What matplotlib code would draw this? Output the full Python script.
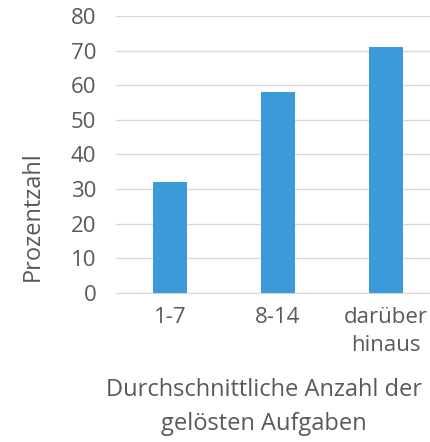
import matplotlib.pyplot as plt

categories = ['1-7', '8-14', 'darüber\nhinaus']
values = [32, 58, 71]

plt.rcParams['font.family'] = ['Open Sans', 'DejaVu Sans']
grey = '#595959'
fs = 16

fig = plt.figure(figsize=(4.31, 4.42), dpi=100)
ax = fig.add_axes([0.269, 0.337, 0.752, 0.627])

x = range(len(categories))
ax.bar(x, values, width=0.32, color='#3b9ad8', zorder=3)

ax.set_ylim(0, 80)
ax.set_yticks(range(0, 81, 10))
ax.set_xlim(-0.5, 2.5)
ax.set_xticks(list(x))
ax.set_xticklabels(categories, linespacing=1.45, va='top')
ax.yaxis.grid(True, color='#d9d9d9', linewidth=1, zorder=0)
for s in ['top', 'right', 'left']:
    ax.spines[s].set_visible(False)
ax.spines['bottom'].set_color('#d9d9d9')
ax.tick_params(axis='y', length=0, pad=14, labelsize=fs, labelcolor=grey)
ax.tick_params(axis='x', length=0, pad=10, labelsize=fs, labelcolor=grey)

fig.text(0.077, 1 - 216 / 442, 'Prozentzahl', rotation=90, ha='center', va='center',
         fontsize=17, color=grey)
fig.text(0.613, 1 - 407 / 442, 'Durchschnittliche Anzahl der\ngelösten Aufgaben',
         ha='center', va='center', fontsize=17, color=grey, linespacing=1.5)

plt.savefig('out.png', dpi=100)
